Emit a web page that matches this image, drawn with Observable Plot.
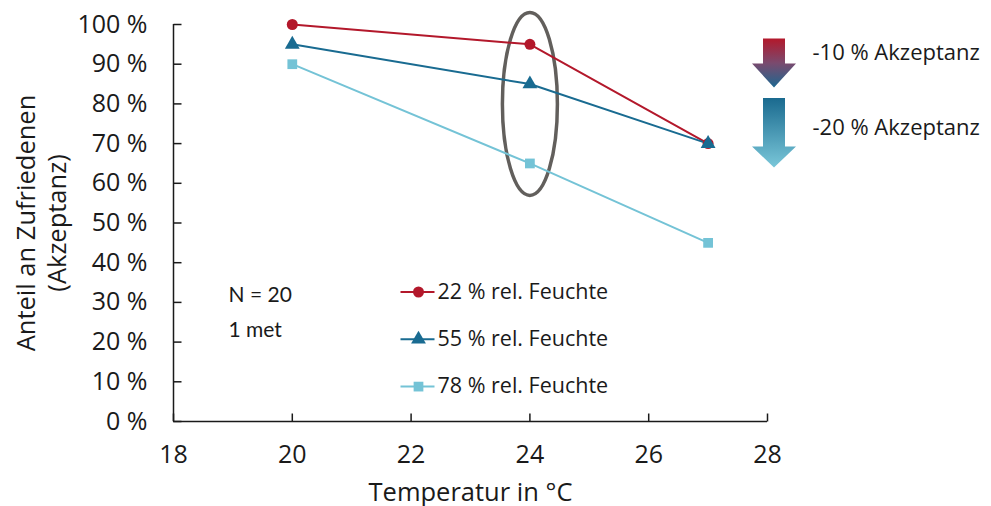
<!DOCTYPE html>
<html>
<head>
<meta charset="utf-8">
<script src="https://cdn.jsdelivr.net/npm/d3@7"></script>
<script src="https://cdn.jsdelivr.net/npm/@observablehq/plot@0.6"></script>
<style>
  body { margin: 0; background: #fff; }
</style>
</head>
<body>
<div id="chart"></div>
<script>
// ---- data ----
const temperatures = [20, 24, 27];
const seriesNames = ["22 % rel. Feuchte", "55 % rel. Feuchte", "78 % rel. Feuchte"];
const values22 = [100, 95, 70];
const values55 = [95, 85, 70];
const values78 = [90, 65, 45];
const xTicks = [18, 20, 22, 24, 26, 28];
const yTicks = [0, 10, 20, 30, 40, 50, 60, 70, 80, 90, 100];
const xLabel = "Temperatur in °C";
const yLabel = "Anteil an Zufriedenen\n(Akzeptanz)";
const notes = ["N = 20", "1 met"];
const arrowLabels = ["-10 % Akzeptanz", "-20 % Akzeptanz"];
const highlight = [{x: 24, y: 80}];

// ---- styles ----
const colors = ["#b3182b", "#196b91", "#74c3d6"];
const symbols = ["circle", "triangle", "square"];
const font = "Open Sans";
const ink = "#1a1a1a";

const seriesValues = [values22, values55, values78];
const data = seriesNames.flatMap((s, i) =>
  temperatures.map((t, j) => ({series: s, temp: t, value: seriesValues[i][j]}))
);

// custom symbols
const tickRight = {draw(ctx) { ctx.moveTo(0, 0); ctx.lineTo(8, 0); }};
const tickUp = {draw(ctx) { ctx.moveTo(0, 0); ctx.lineTo(0, -8); }};
const legendLine = {draw(ctx) { ctx.moveTo(-18, 0); ctx.lineTo(16, 0); }};
const ellipseSym = {draw(ctx) {
  const rx = 27.5, ry = 91.5, k = 0.5523;
  ctx.moveTo(rx, 0);
  ctx.bezierCurveTo(rx, ry * k, rx * k, ry, 0, ry);
  ctx.bezierCurveTo(-rx * k, ry, -rx, ry * k, -rx, 0);
  ctx.bezierCurveTo(-rx, -ry * k, -rx * k, -ry, 0, -ry);
  ctx.bezierCurveTo(rx * k, -ry, rx, -ry * k, rx, 0);
  ctx.closePath();
}};
function arrowSym(shaft, total) {
  return {draw(ctx) {
    const sw = 11, hw = 22;
    ctx.moveTo(-sw, 0); ctx.lineTo(sw, 0); ctx.lineTo(sw, shaft);
    ctx.lineTo(hw, shaft); ctx.lineTo(0, total); ctx.lineTo(-hw, shaft);
    ctx.lineTo(-sw, shaft); ctx.closePath();
  }};
}

const textOpts = {textAnchor: "start", lineAnchor: "middle", fill: ink};

const legendMarks = seriesNames.flatMap((s, i) => [
  Plot.dot([s], {frameAnchor: "top-left", dx: 245, dy: 267.5 + i * 47.3, symbol: legendLine, stroke: colors[i], strokeWidth: 2, fill: "none"}),
  Plot.dot([s], {frameAnchor: "top-left", dx: 245, dy: 267.5 + i * 47.3, symbol: symbols[i], r: 5.5, fill: colors[i], stroke: "none"}),
  Plot.text([s], {frameAnchor: "top-left", dx: 264, dy: 267.5 + i * 47.3, text: d => d, fontSize: 21.5, ...textOpts})
]);

const chart = Plot.plot({
  width: 991,
  height: 506,
  marginLeft: 173,
  marginRight: 224,
  marginTop: 24,
  marginBottom: 85,
  style: {fontFamily: font, fontSize: "24px", color: ink, background: "#fff", overflow: "visible"},
  x: {domain: [18, 28]},
  y: {domain: [0, 100]},
  color: {domain: seriesNames, range: colors},
  symbol: {domain: seriesNames, range: symbols},
  marks: [
    Plot.axisY({ticks: yTicks, tickSize: 0, tickPadding: 26, tickFormat: d => d + " %", label: null, fontSize: 25}),
    Plot.axisX({ticks: xTicks, tickSize: 0, tickPadding: 24, tickFormat: d => String(d), label: null, fontSize: 25}),
    Plot.dot(yTicks, {x: () => xTicks[0], y: d => d, symbol: tickRight, stroke: ink, strokeWidth: 1.5, fill: "none"}),
    Plot.dot(xTicks, {x: d => d, y: () => yTicks[0], symbol: tickUp, stroke: ink, strokeWidth: 1.5, fill: "none"}),
    Plot.ruleX([xTicks[0]], {stroke: ink, strokeWidth: 1.5}),
    Plot.ruleY([yTicks[0]], {stroke: ink, strokeWidth: 1.5}),
    Plot.text([xLabel], {frameAnchor: "bottom", dy: 71, text: d => d, fontSize: 25.5, textAnchor: "middle", lineAnchor: "middle", fill: ink}),
    Plot.text([yLabel], {frameAnchor: "left", dx: -133, rotate: -90, text: d => d, fontSize: 25.5, lineHeight: 1.2, textAnchor: "middle", lineAnchor: "middle", fill: ink}),
    Plot.dot(highlight, {x: "x", y: "y", symbol: ellipseSym, stroke: "#625f5c", strokeWidth: 3.5, fill: "none"}),
    Plot.line(data, {x: "temp", y: "value", z: "series", stroke: "series", strokeWidth: 2}),
    Plot.dot(data, {x: "temp", y: "value", fill: "series", symbol: "series", r: 5.5, stroke: "none"}),
    ...legendMarks,
    Plot.text([notes[0]], {frameAnchor: "top-left", dx: 55, dy: 271, text: d => d, fontFamily: "Lato", fontSize: 21, ...textOpts}),
    Plot.text([notes[1]], {frameAnchor: "top-left", dx: 55, dy: 306, text: d => d, fontFamily: "Lato", fontSize: 21, ...textOpts}),
    Plot.dot([arrowLabels[0]], {frameAnchor: "top-right", dx: 6.5, dy: 14, symbol: arrowSym(25, 49), fill: "url(#gradA)", stroke: "none"}),
    Plot.dot([arrowLabels[1]], {frameAnchor: "top-right", dx: 6.5, dy: 73.5, symbol: arrowSym(48.5, 69.5), fill: "url(#gradB)", stroke: "none"}),
    Plot.text([arrowLabels[0]], {frameAnchor: "top-right", dx: 45, dy: 28, text: d => d, fontSize: 22, ...textOpts}),
    Plot.text([arrowLabels[1]], {frameAnchor: "top-right", dx: 45, dy: 103, text: d => d, fontSize: 22, ...textOpts})
  ]
});

const ns = "http://www.w3.org/2000/svg";
const defs = document.createElementNS(ns, "defs");
defs.innerHTML = `
  <linearGradient id="gradA" x1="0" y1="0" x2="0" y2="1">
    <stop offset="0" stop-color="#b3182b"/>
    <stop offset="0.5" stop-color="#7a4a6e"/>
    <stop offset="1" stop-color="#1d6790"/>
  </linearGradient>
  <linearGradient id="gradB" x1="0" y1="0" x2="0" y2="1">
    <stop offset="0" stop-color="#1a6a8f"/>
    <stop offset="1" stop-color="#7ac7d9"/>
  </linearGradient>`;
chart.insertBefore(defs, chart.firstChild);
document.getElementById("chart").appendChild(chart);
</script>
</body>
</html>
